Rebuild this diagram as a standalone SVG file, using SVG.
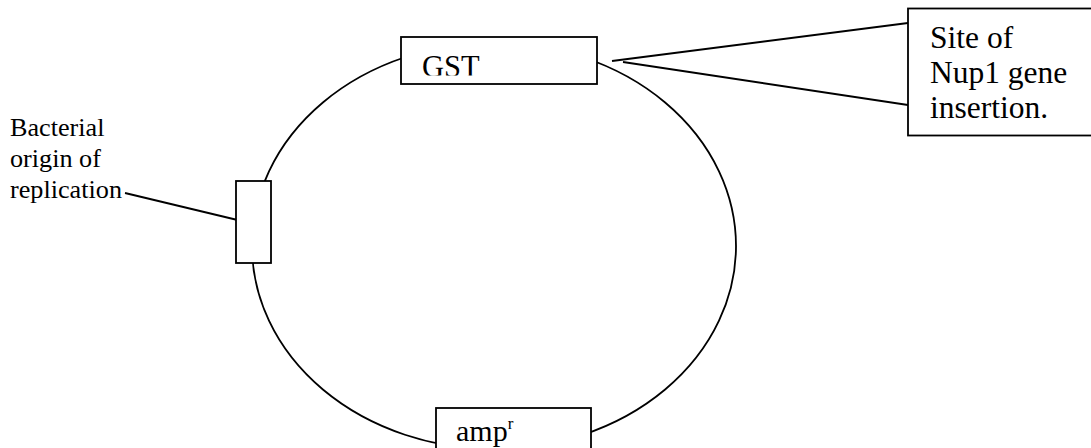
<svg xmlns="http://www.w3.org/2000/svg" width="1091" height="448" viewBox="0 0 1091 448">
<style>
.ln{fill:none;stroke:#000;stroke-width:1.8}
.bx{fill:#fff;stroke:#000;stroke-width:1.8}
.t{font-family:"Liberation Serif","Times New Roman",serif;fill:#000}
</style>
<defs>
<clipPath id="gstclip"><rect x="401" y="37" width="196" height="38.5"/></clipPath>
</defs>
<rect width="1091" height="448" fill="#fff"/>
<g id="plasmid">
<ellipse class="ln" cx="494" cy="246" rx="242" ry="203"/>
</g>
<g id="connectors">
<line class="ln" x1="612" y1="61" x2="908" y2="23"/>
<line class="ln" x1="623" y1="62" x2="908" y2="105"/>
<line class="ln" x1="125" y1="193" x2="250" y2="223"/>
</g>
<g id="gst">
<rect class="bx" x="401" y="37" width="196" height="47"/>
<text class="t" x="422" y="77" font-size="30.5" clip-path="url(#gstclip)">GST</text>
</g>
<g id="insertion-site">
<rect class="bx" x="908" y="8.5" width="190" height="127"/>
<text class="t" font-size="31.5"><tspan x="930" y="48">Site of</tspan><tspan x="930" y="83">Nup1 gene</tspan><tspan x="930" y="118">insertion.</tspan></text>
</g>
<g id="origin">
<rect class="bx" x="236" y="181" width="35" height="82"/>
<text class="t" font-size="26.2"><tspan x="10" y="136">Bacterial</tspan><tspan x="10" y="167">origin of</tspan><tspan x="10" y="198">replication</tspan></text>
</g>
<g id="amp">
<rect class="bx" x="436" y="408" width="155" height="50"/>
<text class="t" x="456" y="441" font-size="30">amp<tspan font-size="17" dy="-12">r</tspan></text>
</g>
</svg>
